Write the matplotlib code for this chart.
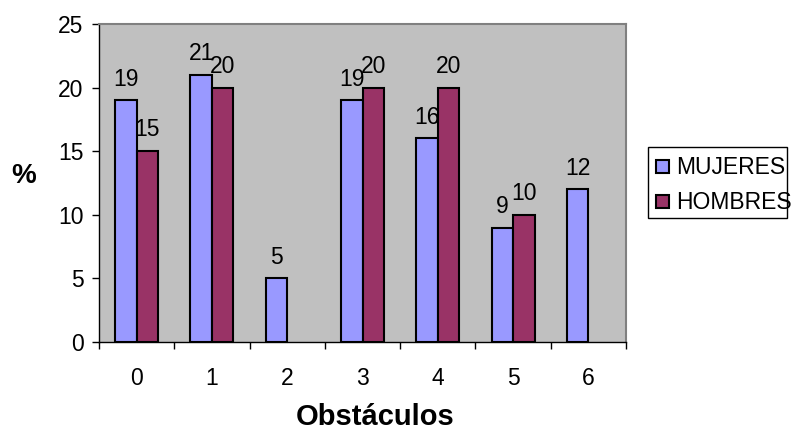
import matplotlib
matplotlib.use("Agg")
import matplotlib.pyplot as plt
from matplotlib.patches import Rectangle
import numpy as np

categories = ["0", "1", "2", "3", "4", "5", "6"]
mujeres = [19, 21, 5, 19, 16, 9, 12]
hombres = [15, 20, None, 20, 20, 10, None]
series_names = ["MUJERES", "HOMBRES"]
y_ticks = [0, 5, 10, 15, 20, 25]

plt.rcParams["font.family"] = ["Liberation Sans", "DejaVu Sans"]

W, H = 795, 432
fig = plt.figure(figsize=(W / 100, H / 100), dpi=100)
left, right, top, bottom = 99, 626, 24, 342
ax = fig.add_axes([left / W, 1 - bottom / H, (right - left) / W, (bottom - top) / H])
ax.set_facecolor("#C0C0C0")

x = np.arange(len(categories))
bw = 0.285
colors = ["#9999FF", "#993366"]
fs = 16.5

for i, (vals, col) in enumerate(zip([mujeres, hombres], colors)):
    xs = [xi for xi, v in zip(x, vals) if v is not None]
    vs = [v for v in vals if v is not None]
    pos = np.array(xs) + (i - 0.5) * bw
    ax.bar(pos, vs, width=bw, color=col, edgecolor="black", linewidth=1.5, zorder=3)
    for px, v in zip(pos, vs):
        ax.annotate(str(v), (px, v), xytext=(0, 7), textcoords="offset points",
                    ha="center", va="bottom", fontsize=fs, zorder=4)

ax.set_xlim(-0.5, len(categories) - 0.5)
ax.set_ylim(0, 25)
ax.set_yticks(y_ticks)
ax.set_yticklabels([str(t) for t in y_ticks], fontsize=fs)
ax.set_xticks(x)
ax.set_xticklabels(categories, fontsize=fs)
ax.set_xticks(np.arange(-0.5, len(categories)), minor=True)
ax.tick_params(axis="x", which="major", length=0, pad=18)
ax.tick_params(axis="x", which="minor", length=5, direction="out", width=1)
ax.tick_params(axis="y", length=5, direction="out", width=1, pad=6)

for s in ["top", "right"]:
    ax.spines[s].set_color("#808080")
    ax.spines[s].set_linewidth(1.5)
for s in ["left", "bottom"]:
    ax.spines[s].set_color("black")
    ax.spines[s].set_linewidth(1)

fig.text(24 / W, 1 - 183 / H, "%", fontsize=20, fontweight="bold",
         ha="center", va="baseline")
fig.text(375 / W, 1 - 425 / H, "Obstáculos", fontsize=21, fontweight="bold",
         ha="center", va="baseline")

# Legend box drawn in figure pixel coordinates
def fx(px):
    return px / W

def fy(py):
    return 1 - py / H

fig.patches.append(Rectangle((fx(648), fy(218)), fx(787) - fx(648), fy(147) - fy(218),
                             transform=fig.transFigure, facecolor="white",
                             edgecolor="black", linewidth=1, zorder=1))
for name, col, yc in zip(series_names, colors, [166.5, 201]):
    fig.patches.append(Rectangle((fx(656), fy(yc + 6.5)), fx(13), 13 / H,
                                 transform=fig.transFigure, facecolor=col,
                                 edgecolor="black", linewidth=1.5, zorder=2))
    fig.text(fx(676), fy(yc + 8), name, fontsize=fs, ha="left", va="baseline",
             zorder=3)

fig.savefig("out.png", dpi=100)
